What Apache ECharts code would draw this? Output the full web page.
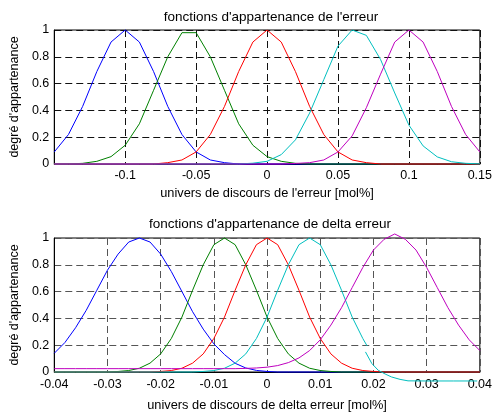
<!DOCTYPE html>
<html>
<head>
<meta charset="utf-8">
<script src="https://cdn.jsdelivr.net/npm/echarts@6/dist/echarts.min.js"></script>
<style>
html,body{margin:0;padding:0;background:#fff;}
#c{width:495px;height:415px;}
</style>
</head>
<body>
<div id="c"></div>
<script>
// ---------- Top chart: erreur ----------
const topTitle = "fonctions d'appartenance de l'erreur";
const topXName = "univers de discours de l'erreur [mol%]";
const topX = [-0.15,-0.14,-0.13,-0.12,-0.11,-0.10,-0.09,-0.08,-0.07,-0.06,-0.05,-0.04,-0.03,-0.02,-0.01,0,
  0.01,0.02,0.03,0.04,0.05,0.06,0.07,0.08,0.09,0.10,0.11,0.12,0.13,0.14,0.15];
const topBlue = [0.09,0.22,0.43,0.69,0.91,1.00,0.91,0.69,0.43,0.22,0.09,0.03,0.01,0,0,0,0,0,0,0,0,0,0,0,0,0,0,0,0,0,0];
const topGreen = [0,0,0.005,0.02,0.055,0.14,0.30,0.55,0.80,0.98,0.98,0.80,0.55,0.30,0.14,0.055,0.02,0.005,0,0,0,0,0,0,0,0,0,0,0,0,0];
const topRed = [0,0,0,0,0,0,0,0,0.01,0.03,0.09,0.22,0.43,0.69,0.91,1.00,0.91,0.69,0.43,0.22,0.09,0.03,0.01,0,0,0,0,0,0,0,0];
const topCyan = [0,0,0,0,0,0,0,0,0,0,0,0,0,0,0.006,0.02,0.07,0.18,0.38,0.63,0.88,1.00,0.96,0.78,0.53,0.29,0.135,0.053,0.017,0.005,0.001];
const topMagenta = [0,0,0,0,0,0,0,0,0,0,0,0,0,0,0,0,0,0.004,0.01,0.03,0.09,0.21,0.42,0.67,0.91,1.00,0.91,0.69,0.43,0.22,0.09];

// ---------- Bottom chart: delta erreur ----------
const botTitle = "fonctions d'appartenance de delta erreur";
const botXName = "univers de discours de delta erreur [mol%]";
const botX = [-0.040,-0.038,-0.036,-0.034,-0.032,-0.030,-0.028,-0.026,-0.024,-0.022,-0.020,-0.018,-0.016,-0.014,-0.012,-0.010,
  -0.008,-0.006,-0.004,-0.002,0,0.002,0.004,0.006,0.008,0.010,0.012,0.014,0.016,0.018,0.020,0.022,0.024,0.026,0.028,0.030,
  0.032,0.034,0.036,0.038,0.040];
const botBlue = [0.14,0.22,0.33,0.46,0.61,0.76,0.88,0.97,1.00,0.97,0.88,0.75,0.60,0.45,0.32,0.21,0.13,0.065,0.03,0.012,0.004,
  0,0,0,0,0,0,0,0,0,0,0,0,0,0,0,0,0,0,0,0];
const botGreen = [0,0,0,0,0,0,0.004,0.011,0.028,0.066,0.135,0.25,0.41,0.61,0.80,0.95,1.00,0.95,0.80,0.61,0.41,0.25,0.135,0.066,
  0.028,0.011,0.004,0,0,0,0,0,0,0,0,0,0,0,0,0,0];
const botRed = [0,0,0,0,0,0,0,0,0,0,0.004,0.011,0.028,0.066,0.135,0.25,0.41,0.61,0.80,0.95,1.00,0.95,0.80,0.61,0.41,0.25,0.135,
  0.066,0.028,0.011,0.004,0,0,0,0,0,0,0,0,0,0];
const botCyanHeadX = [-0.040,-0.038,-0.036,-0.034,-0.032,-0.030,-0.028,-0.026,-0.024,-0.022,-0.020,-0.018,-0.016,-0.014,-0.012,
  -0.010,-0.008,-0.006,-0.004,-0.002,0,0.002,0.004,0.006,0.008,0.010,0.012,0.014,0.016,0.018,0.0188];
const botCyanHeadY = [0,0,0,0,0,0,0,0,0,0,0,0,0,0,0.004,0.011,0.028,0.066,0.135,0.25,0.41,0.61,0.80,0.95,1.00,0.95,0.80,0.61,0.41,0.25,0.195];
const botCyanTailX = [0.0185,0.0197,0.0209,0.0222,0.0234,0.0250,0.0265,0.0300,0.0350,0.0395];
const botCyanTailY = [0.15,0.063,0.013,-0.015,-0.037,-0.055,-0.066,-0.067,-0.067,-0.067];
const botMagenta = [0.025,0.025,0.025,0.025,0.025,0.025,0.025,0.025,0.025,0.025,0.025,0.025,0.025,0.025,0.025,0.025,0.025,0.025,
  0.027,0.03,0.036,0.048,0.07,0.105,0.16,0.24,0.35,0.48,0.63,0.78,0.91,0.99,1.03,0.99,0.91,0.78,0.63,0.48,0.35,0.24,0.16];

const yName = "degré d'appartenance";

const C = {blue:'#0000ff', green:'#008000', red:'#ff0000', cyan:'#00bfbf', magenta:'#bf00bf'};
const FONT = 'Liberation Sans, Arial, sans-serif';

function zip(xs, ys){ return xs.map((x,i)=>[x, ys[i]]); }
function fmt(v){ return String(parseFloat(v.toFixed(4))); }

function xAxis(idx, min, max, interval, name, gap, hideMin){
  return {
    type:'value', gridIndex: idx, min:min, max:max, interval:interval,
    axisLine:{show:true, onZero:false, lineStyle:{color:'#000', width:1}},
    axisTick:{show:false},
    axisLabel:{color:'#000', fontSize:12.5, fontFamily:FONT, margin:idx===0?5:6, hideOverlap:false,
      showMinLabel:true, showMaxLabel:true,
      formatter:function(v){ if(hideMin && Math.abs(v-min)<1e-9) return ''; return fmt(v); }},
    splitLine:{show:true, lineStyle:{color:idx===0?'#111':'#555', width:1, type:[7,4]}},
    name:name, nameLocation:'middle', nameGap:gap,
    nameTextStyle:{color:'#000', fontSize:12.8, fontFamily:FONT}
  };
}
function yAxis(idx){
  return {
    type:'value', gridIndex: idx, min:0, max:1, interval:0.2,
    axisLine:{show:true, onZero:false, lineStyle:{color:'#000', width:1}},
    axisTick:{show:false},
    axisLabel:{color:'#000', fontSize:12.5, fontFamily:FONT, margin:5, formatter:fmt},
    splitLine:{show:true, lineStyle:{color:idx===0?'#111':'#555', width:1, type:[7,4]}},
    name:yName, nameLocation:'middle', nameGap:31,
    nameTextStyle:{color:'#000', fontSize:12.5, fontFamily:FONT}
  };
}
function line(idx, data, color){
  return {type:'line', xAxisIndex:idx, yAxisIndex:idx, data:data, symbol:'none', clip:false,
    lineStyle:{color:color, width:1}, itemStyle:{color:color}, silent:true, animation:false};
}

const chart = echarts.init(document.getElementById('c'), null, {renderer:'canvas'});
chart.setOption({
  backgroundColor:'#fff',
  animation:false,
  title:[
    {text:topTitle, left:266, top:5, textAlign:'center', textStyle:{fontSize:13.5, fontWeight:'normal', color:'#000', fontFamily:FONT}},
    {text:botTitle, left:265, top:212, textAlign:'center', textStyle:{fontSize:13.5, fontWeight:'normal', color:'#000', fontFamily:FONT}}
  ],
  grid:[
    {left:50, top:30, width:433, height:134, show:true, borderColor:'#000', borderWidth:1, backgroundColor:'transparent'},
    {left:50, top:238, width:433, height:134, show:true, borderColor:'#000', borderWidth:1, backgroundColor:'transparent'}
  ],
  xAxis:[
    xAxis(0, -0.15, 0.15, 0.05, topXName, 23, true),
    xAxis(1, -0.04, 0.04, 0.01, botXName, 27, false)
  ],
  yAxis:[yAxis(0), yAxis(1)],
  series:[
    line(0, zip(topX, topBlue), C.blue),
    line(0, zip(topX, topGreen), C.green),
    line(0, zip(topX, topRed), C.red),
    line(0, zip(topX, topCyan), C.cyan),
    line(0, zip(topX, topMagenta), C.magenta),
    line(1, zip(botX, botBlue), C.blue),
    line(1, zip(botX, botGreen), C.green),
    line(1, zip(botX, botRed), C.red),
    line(1, zip(botCyanHeadX, botCyanHeadY), C.cyan),
    line(1, zip(botCyanTailX, botCyanTailY), C.cyan),
    line(1, zip(botX, botMagenta), C.magenta)
  ]
});
</script>
</body>
</html>
